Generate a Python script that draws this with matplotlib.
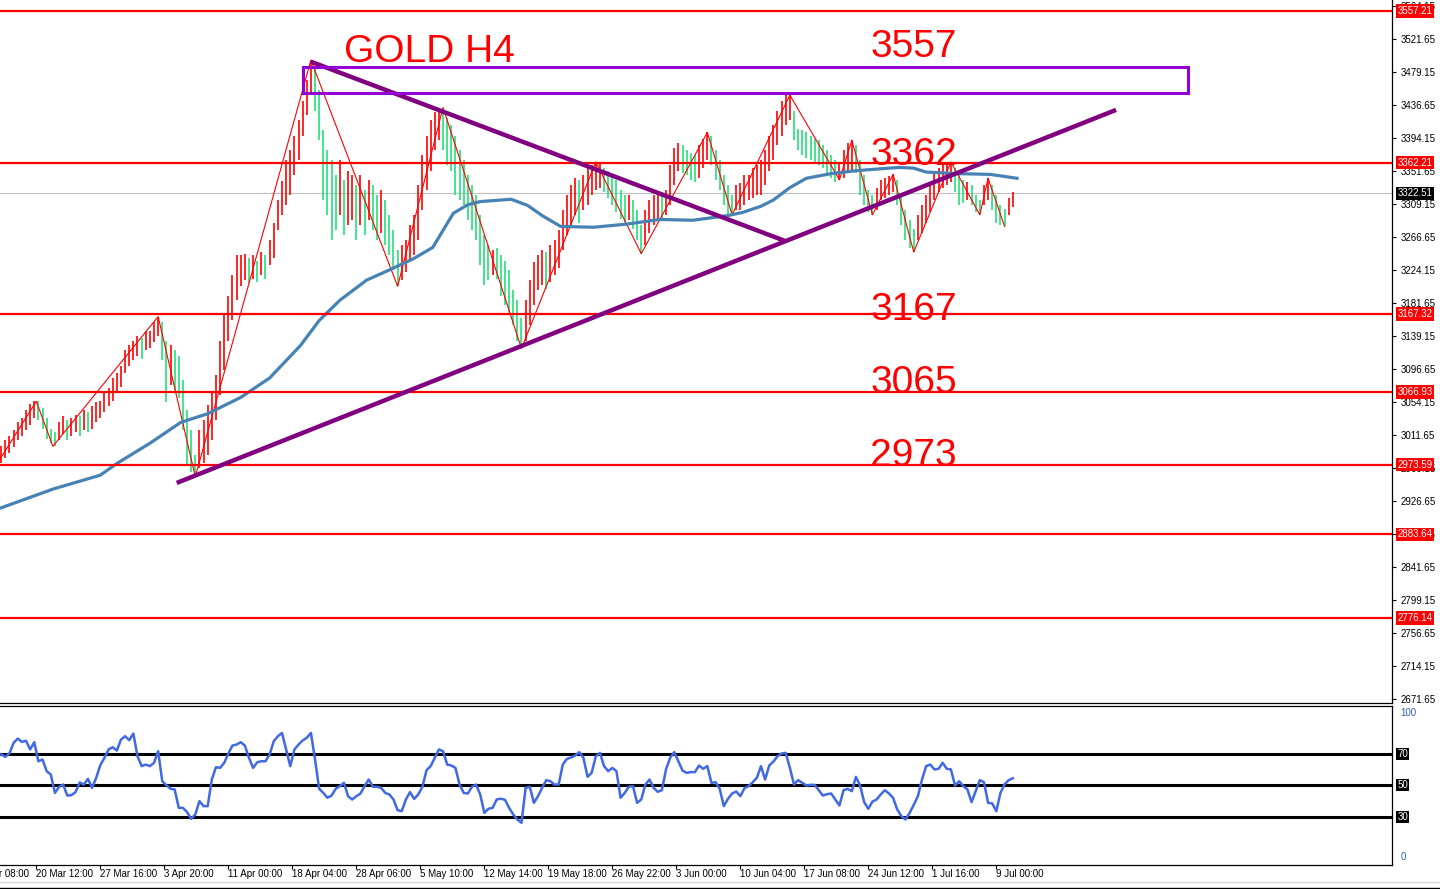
import numpy as np
import matplotlib
matplotlib.use("Agg")
import matplotlib.pyplot as plt
from matplotlib.patches import Rectangle
from matplotlib.lines import Line2D
from matplotlib.transforms import blended_transform_factory

plt.rcParams["font.family"] = ["Liberation Sans", "DejaVu Sans"]

# H4 bars, two bars per entry (high / low)
high = [2998, 3005, 3010, 3018, 3028, 3033, 3044, 3051, 3056, 3055,
        3046, 3033, 3020, 3015, 3028, 3036, 3031, 3033, 3038, 3036,
        3044, 3041, 3049, 3054, 3056, 3066, 3072, 3085, 3092, 3100,
        3121, 3128, 3133, 3139, 3136, 3146, 3146, 3157, 3164, 3157,
        3133, 3127, 3121, 3113, 3082, 3044, 3018, 2986, 3018, 3031,
        3050, 3066, 3089, 3133, 3166, 3191, 3217, 3243, 3243, 3245,
        3239, 3243, 3236, 3247, 3243, 3262, 3285, 3314, 3339, 3365,
        3378, 3397, 3417, 3442, 3468, 3494, 3487, 3455, 3404, 3378,
        3365, 3346, 3365, 3340, 3352, 3346, 3333, 3346, 3327, 3340,
        3333, 3320, 3327, 3314, 3295, 3275, 3250, 3256, 3263, 3282,
        3295, 3333, 3372, 3397, 3417, 3427, 3432, 3433, 3419, 3410,
        3397, 3378, 3365, 3346, 3333, 3320, 3295, 3269, 3256, 3250,
        3252, 3243, 3236, 3224, 3198, 3185, 3162, 3185, 3211, 3234,
        3243, 3250, 3247, 3256, 3263, 3275, 3301, 3320, 3333, 3342,
        3340, 3346, 3355, 3359, 3363, 3361, 3355, 3352, 3346, 3340,
        3327, 3320, 3320, 3314, 3301, 3282, 3301, 3314, 3320, 3323,
        3320, 3327, 3359, 3381, 3387, 3385, 3378, 3375, 3372, 3385,
        3393, 3401, 3397, 3378, 3365, 3346, 3333, 3320, 3333, 3336,
        3346, 3346, 3355, 3359, 3365, 3378, 3397, 3411, 3429, 3442,
        3449, 3449, 3429, 3406, 3404, 3401, 3397, 3393, 3391, 3385,
        3378, 3372, 3365, 3363, 3378, 3388, 3391, 3385, 3365, 3346,
        3327, 3320, 3329, 3340, 3342, 3345, 3347, 3340, 3320, 3301,
        3288, 3277, 3295, 3307, 3320, 3333, 3350, 3355, 3359, 3363,
        3363, 3355, 3346, 3340, 3337, 3333, 3320, 3314, 3333, 3342,
        3333, 3320, 3307, 3303, 3316, 3324]
low = [2976, 2982, 2989, 2996, 3005, 3010, 3018, 3024, 3033, 3031,
       3020, 3007, 3001, 2997, 3005, 3013, 3005, 3010, 3015, 3010,
       3018, 3015, 3020, 3028, 3033, 3041, 3049, 3056, 3066, 3074,
       3092, 3100, 3108, 3113, 3110, 3121, 3123, 3131, 3139, 3108,
       3054, 3076, 3069, 3059, 3018, 2973, 2964, 2958, 2969, 2976,
       2986, 3005, 3031, 3063, 3095, 3133, 3160, 3185, 3204, 3211,
       3207, 3213, 3208, 3217, 3213, 3230, 3239, 3275, 3295, 3307,
       3320, 3346, 3365, 3397, 3423, 3449, 3429, 3391, 3314, 3295,
       3263, 3275, 3295, 3269, 3282, 3288, 3263, 3282, 3269, 3288,
       3275, 3263, 3272, 3256, 3243, 3224, 3203, 3211, 3221, 3234,
       3243, 3263, 3301, 3327, 3352, 3378, 3391, 3378, 3359, 3352,
       3320, 3314, 3307, 3288, 3275, 3263, 3230, 3205, 3211, 3217,
       3213, 3191, 3179, 3168, 3153, 3133, 3123, 3133, 3153, 3179,
       3198, 3205, 3200, 3208, 3217, 3226, 3250, 3269, 3282, 3295,
       3285, 3301, 3307, 3320, 3327, 3329, 3324, 3316, 3307, 3298,
       3290, 3285, 3288, 3277, 3263, 3245, 3256, 3272, 3282, 3288,
       3290, 3295, 3307, 3333, 3352, 3349, 3346, 3340, 3337, 3342,
       3355, 3365, 3359, 3340, 3327, 3307, 3296, 3295, 3301, 3301,
       3307, 3314, 3316, 3320, 3320, 3333, 3352, 3365, 3385, 3397,
       3411, 3417, 3391, 3378, 3372, 3368, 3365, 3363, 3359, 3355,
       3349, 3342, 3337, 3340, 3342, 3349, 3352, 3349, 3320, 3307,
       3298, 3295, 3301, 3314, 3316, 3320, 3324, 3307, 3282, 3263,
       3252, 3247, 3263, 3272, 3285, 3298, 3314, 3324, 3329, 3333,
       3337, 3324, 3307, 3310, 3314, 3307, 3298, 3295, 3307, 3314,
       3301, 3285, 3282, 3280, 3295, 3305]

rsi = [69.6, 68.1, 70.4, 77.0, 79.7, 77.6, 78.3, 72.8, 77.4, 65.3,
       66.4, 59.0, 56.9, 45.2, 49.0, 50.5, 43.5, 43.8, 45.7, 51.8,
       50.5, 54.1, 48.4, 54.8, 62.8, 67.5, 72.8, 74.2, 72.1, 79.1,
       81.2, 78.7, 82.9, 68.5, 62.2, 63.2, 62.2, 64.3, 71.7, 52.6,
       50.1, 47.8, 47.4, 35.7, 35.7, 33.0, 28.7, 31.5, 40.0, 36.8,
       36.8, 53.7, 61.5, 61.1, 64.3, 70.2, 75.3, 75.9, 77.4, 75.3,
       67.5, 61.1, 64.7, 65.3, 65.3, 69.6, 78.0, 81.2, 83.3, 72.8,
       62.2, 72.8, 75.9, 78.5, 80.2, 83.3, 66.4, 47.8, 45.2, 42.1,
       43.5, 47.8, 49.5, 51.6, 43.1, 41.0, 43.1, 44.8, 49.5, 53.7,
       49.1, 49.1, 48.4, 45.2, 44.2, 41.0, 34.2, 33.6, 41.0, 45.7,
       41.4, 44.2, 49.1, 59.6, 62.2, 67.5, 72.8, 71.7, 63.2, 62.6,
       61.1, 50.5, 45.2, 44.8, 49.1, 50.5, 44.2, 32.5, 35.1, 35.7,
       41.0, 41.5, 40.8, 35.7, 31.5, 28.3, 26.2, 48.4, 49.1, 38.9,
       43.1, 48.4, 53.3, 52.6, 50.5, 50.5, 63.2, 66.8, 67.7, 68.9,
       71.1, 67.5, 55.4, 58.0, 68.5, 70.6, 62.2, 59.0, 61.1, 59.0,
       42.1, 45.2, 49.1, 49.5, 38.9, 41.0, 50.5, 53.7, 48.4, 45.9,
       46.9, 60.1, 67.5, 71.1, 65.3, 59.4, 57.9, 58.4, 58.4, 62.6,
       60.5, 62.2, 51.6, 52.0, 47.8, 36.8, 41.4, 44.8, 46.1, 43.1,
       48.2, 49.5, 52.0, 54.8, 62.2, 53.7, 62.6, 65.1, 68.5, 70.2,
       70.6, 61.1, 50.5, 53.3, 51.6, 49.9, 50.3, 50.3, 46.9, 43.5,
       44.4, 44.8, 41.0, 37.2, 46.9, 47.8, 46.3, 55.4, 49.9, 39.3,
       35.1, 39.7, 41.0, 44.2, 46.9, 44.8, 42.1, 34.7, 30.4, 28.3,
       32.5, 37.6, 43.1, 53.7, 62.2, 63.2, 60.1, 60.5, 64.3, 60.5,
       60.1, 49.9, 52.6, 49.5, 47.4, 39.3, 46.3, 53.3, 52.0, 38.9,
       38.5, 33.6, 45.2, 50.7, 53.3, 54.5]

# moving average (bar index, price)
ma_t = [0, 25, 48, 56, 72, 87, 100, 116, 130, 145, 154, 164, 177, 188, 200,
        209, 219, 226, 232, 247, 255, 262, 271, 287, 303, 319, 335, 352, 359,
        368, 374, 382, 390, 402, 415, 435, 442, 448, 463, 479, 492]
ma_p = [2918, 2942, 2960, 2975, 3001, 3028, 3039, 3060, 3085, 3127, 3159,
        3185, 3211, 3224, 3239, 3253, 3297, 3308, 3312, 3315, 3307, 3294,
        3280, 3279, 3283, 3289, 3288, 3294, 3298, 3306, 3314, 3330, 3342,
        3348, 3352, 3356, 3355, 3350, 3348, 3347, 3342]

# zigzag pivots
zz_t = [-5, 17, 25, 76, 94, 150, 192, 214, 252, 288, 310, 342, 354, 382,
        406, 412, 422, 432, 442, 460, 474, 478, 486]
zz_p = [2962, 3055, 2997, 3164, 2958, 3494, 3203, 3433, 3123, 3363, 3245,
        3401, 3295, 3449, 3340, 3391, 3295, 3347, 3247, 3363, 3295, 3342, 3280]

levels = [3557.21, 3362.21, 3167.32, 3066.93, 2973.59, 2883.64, 2776.14]
last_price = 3322.51

up_t, up_p = [85, 540], [2950, 3430]
down_t, down_p = [150, 380], [3492, 3261]
zone_t, zone_p = [146, 575], [3452, 3485]

note_text = ["GOLD H4", "3557", "3362", "3167", "3065", "2973"]
note_t = [166, 421, 421, 421, 421, 421]
note_p = [3492, 3498, 3359, 3160, 3066, 2972]

price_ticks = [3564.15, 3521.65, 3479.15, 3436.65, 3394.15, 3351.65, 3309.15,
               3266.65, 3224.15, 3181.65, 3139.15, 3096.65, 3054.15, 3011.65,
               2969.15, 2926.65, 2884.15, 2841.65, 2799.15, 2756.65, 2714.15,
               2671.65]
time_labels = ["13 Mar 08:00", "20 Mar 12:00", "27 Mar 16:00", "3 Apr 20:00",
               "11 Apr 00:00", "18 Apr 04:00", "28 Apr 06:00", "5 May 10:00",
               "12 May 14:00", "19 May 18:00", "26 May 22:00", "3 Jun 00:00",
               "10 Jun 04:00", "17 Jun 08:00", "24 Jun 12:00", "1 Jul 16:00",
               "9 Jul 00:00"]
time_ticks = [-14, 17, 48, 79, 110, 141, 172, 203, 234, 265, 296, 327, 358,
              389, 420, 451, 482]

W, H = 1440, 889
fig = plt.figure(figsize=(14.4, 8.89), dpi=100)
ax = fig.add_axes([0, 1 - 703 / H, 1392 / W, 703 / H])
rs = fig.add_axes([0, 1 - 865 / H, 1392 / W, 159 / H], sharex=ax)

hi = np.array(high)
lo = np.array(low)
bx = np.arange(len(hi)) * 2
mid = (hi + lo) / 2
up = np.r_[True, mid[1:] >= mid[:-1]]
cols = np.where(up, "#ff0000", "#22e07a")

ax.axhline(last_price, color="#c0c0c0", lw=0.8, zorder=1)
ax.vlines(bx, lo, hi, colors=cols, lw=1.2, zorder=2)
ax.plot(zz_t, zz_p, color="#ff0000", lw=0.8, zorder=3)
ax.plot(ma_t, ma_p, color="#4682b4", lw=2.3, zorder=3)
for lv in levels:
    ax.axhline(lv, color="#ff0000", lw=1.6, zorder=4)
ax.plot(up_t, up_p, color="#800080", lw=3.2, zorder=5, solid_capstyle="butt")
ax.plot(down_t, down_p, color="#800080", lw=3.2, zorder=5, solid_capstyle="butt")
ax.add_patch(Rectangle((zone_t[0], zone_p[0]), zone_t[1] - zone_t[0],
                       zone_p[1] - zone_p[0], fill=False, ec="#9400d3",
                       lw=2.2, zorder=5))
for s, t, p in zip(note_text, note_t, note_p):
    ax.text(t, p, s, color="#ff0000", fontsize=28, va="baseline", ha="left",
            zorder=6)

ax.set_xlim(-0.6, 673.65)
ax.set_ylim(2666.8, 3571.4)
ax.yaxis.tick_right()
ax.set_yticks(price_ticks)
ax.set_yticklabels(["%.2f" % v for v in price_ticks])
ax.tick_params(axis="y", direction="out", length=3, pad=3, labelsize=7,
               width=0.8)
ax.tick_params(axis="x", length=0, labelbottom=False)
for side in ["left", "top"]:
    ax.spines[side].set_visible(False)
for side in ["right", "bottom"]:
    ax.spines[side].set_linewidth(0.9)

tr = blended_transform_factory(ax.transAxes, ax.transData)
for lv in levels:
    ax.text(1.004, lv, "%.2f" % lv, transform=tr, color="white", fontsize=7,
            va="center", ha="left", zorder=10, clip_on=False,
            bbox=dict(facecolor="#ff0000", edgecolor="none", pad=1.2))
ax.text(1.004, last_price, "%.2f" % last_price, transform=tr, color="white",
        fontsize=7, va="center", ha="left", zorder=10, clip_on=False,
        bbox=dict(facecolor="black", edgecolor="none", pad=1.2))

# RSI panel
rs.plot(bx[:len(rsi)], rsi, color="#4169e1", lw=1.8, zorder=3)
for lv in [70, 50, 30]:
    rs.axhline(lv, color="black", lw=2.2, zorder=2)
rs.set_ylim(-0.6, 100.4)
rs.set_yticks([])
trr = blended_transform_factory(rs.transAxes, rs.transData)
for lv in [70, 50, 30]:
    rs.text(1.004, lv, str(lv), transform=trr, color="white", fontsize=7,
            va="center", ha="left", clip_on=False,
            bbox=dict(facecolor="black", edgecolor="none", pad=0.8))
rs.text(1.006, 99, "100", transform=trr, color="#2f5fb3", fontsize=7,
        va="top", ha="left", clip_on=False)
rs.text(1.006, 1, "0", transform=trr, color="#2f5fb3", fontsize=7,
        va="bottom", ha="left", clip_on=False)
for side in ["left"]:
    rs.spines[side].set_visible(False)
for side in ["right", "top", "bottom"]:
    rs.spines[side].set_linewidth(0.9)

rs.set_xticks(time_ticks[1:])
rs.tick_params(axis="x", direction="out", length=3, width=0.8,
               labelbottom=False)
trx = blended_transform_factory(rs.transData, rs.transAxes)
for t, s in zip(time_ticks, time_labels):
    rs.text(t, -0.057, s, transform=trx, fontsize=7, va="center", ha="left",
            clip_on=False)

fig.add_artist(Line2D([0, 1], [1 - 882 / H] * 2, color="#d8d8d8", lw=1))
fig.add_artist(Line2D([0, 1], [1 - 888 / H] * 2, color="black", lw=1))

fig.savefig("out.png", dpi=100)
